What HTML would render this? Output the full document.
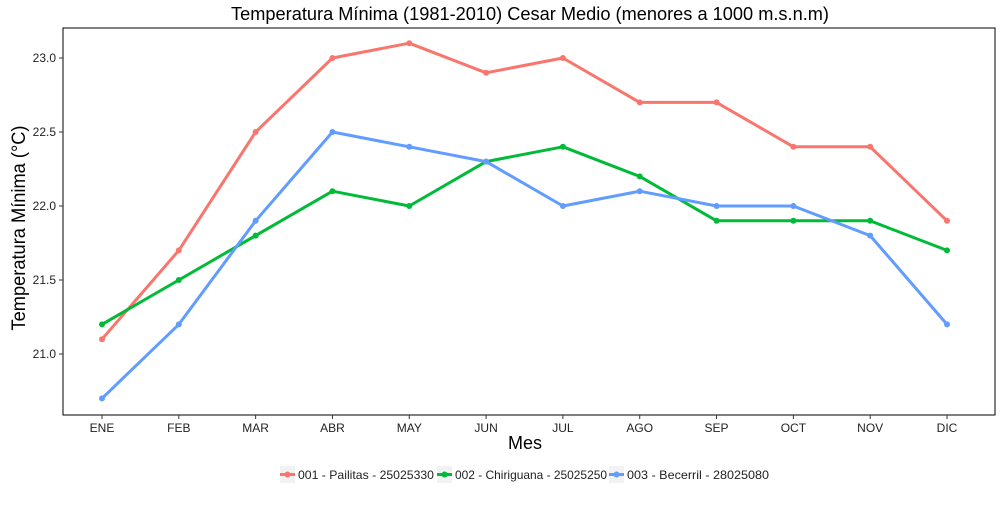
<!DOCTYPE html>
<html><head><meta charset="utf-8"><style>
body{margin:0;background:#fff;font-family:"Liberation Sans",sans-serif}
</style></head><body>
<svg width="1000" height="500" font-family="Liberation Sans, sans-serif">
<rect width="1000" height="500" fill="#fff"/>
<text x="530" y="20" text-anchor="middle" font-size="18" textLength="598" lengthAdjust="spacingAndGlyphs">Temperatura Mínima (1981-2010) Cesar Medio (menores a 1000 m.s.n.m)</text>
<rect x="63" y="28" width="932" height="387" fill="none" stroke="#000" stroke-width="1"/>
<g id="yax"></g><g id="xax"></g><g id="series"></g>
<text x="525" y="449" text-anchor="middle" font-size="18">Mes</text>
<text transform="translate(25,228) rotate(-90)" text-anchor="middle" font-size="19" textLength="205" lengthAdjust="spacingAndGlyphs">Temperatura Mínima (°C)</text>
<g id="legend" font-size="12"></g>
</svg>
<script>
const months=["ENE","FEB","MAR","ABR","MAY","JUN","JUL","AGO","SEP","OCT","NOV","DIC"];
const yTicks=[21.0,21.5,22.0,22.5,23.0];
const seriesNames=["001 - Pailitas - 25025330","002 - Chiriguana - 25025250","003 - Becerril - 28025080"];
const pailitas=[21.1,21.7,22.5,23.0,23.1,22.9,23.0,22.7,22.7,22.4,22.4,21.9];
const chiriguana=[21.2,21.5,21.8,22.1,22.0,22.3,22.4,22.2,21.9,21.9,21.9,21.7];
const becerril=[20.7,21.2,21.9,22.5,22.4,22.3,22.0,22.1,22.0,22.0,21.8,21.2];
const colors=["#F8766D","#00BA38","#619CFF"];
const ns="http://www.w3.org/2000/svg";
const X=i=>102+i*(947-102)/11;
const Y=v=>354-(v-21)*148;
function mk(t,a,p){const e=document.createElementNS(ns,t);for(const k in a)e.setAttribute(k,a[k]);p.appendChild(e);return e;}
const yax=document.getElementById('yax');
yTicks.forEach(v=>{
 const l=mk('line',{x1:59,x2:63,y1:Y(v),y2:Y(v),stroke:'#333'},yax);
 
 
 const t=mk('text',{x:56,y:Y(v)+4,'text-anchor':'end','font-size':12,fill:'#222'},yax);t.textContent=v.toFixed(1);
 
 
});
const xax=document.getElementById('xax');
months.forEach((m,i)=>{
 const l=mk('line',{x1:X(i),x2:X(i),y1:415,y2:419,stroke:'#333'},xax);
 
 
 const t=mk('text',{x:X(i),y:432,'text-anchor':'middle','font-size':12,fill:'#222'},xax);t.textContent=m;
 
 
});
const sg=document.getElementById('series');
[pailitas,chiriguana,becerril].forEach((d,s)=>{
 const p=mk('polyline',{points:d.map((v,i)=>X(i)+','+Y(v)).join(' '),fill:'none',stroke:colors[s],'stroke-width':3,'stroke-linejoin':'round'},sg);
 
 
 d.forEach((v,i)=>{const c=mk('circle',{cx:X(i),cy:Y(v),r:3,fill:colors[s]},sg);
 
 });
});
const lg=document.getElementById('legend');
const lx=[280,437,609];
const lw=[136,152,142];
seriesNames.forEach((n,s)=>{
 const g=mk('g',{},lg);
 
 
 mk('rect',{x:lx[s],y:466,width:15,height:17,fill:'#f2f2f2'},g);
 mk('line',{x1:lx[s],x2:lx[s]+15,y1:474.5,y2:474.5,stroke:colors[s],'stroke-width':3},g);
 mk('circle',{cx:lx[s]+7.5,cy:474.5,r:3,fill:colors[s]},g);
 const t=mk('text',{x:lx[s]+18,y:479,fill:'#222',textLength:lw[s],lengthAdjust:'spacingAndGlyphs'},g);t.textContent=n;
});
</script>
</body></html>
